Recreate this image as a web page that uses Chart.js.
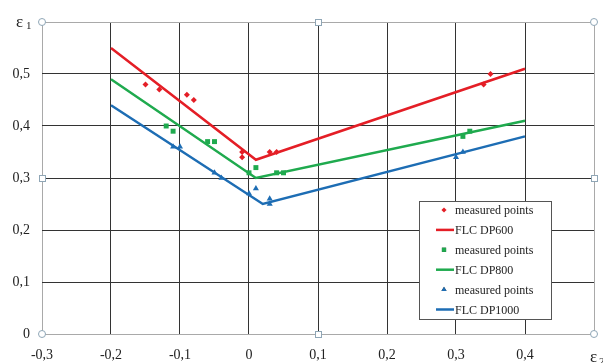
<!DOCTYPE html>
<html>
<head>
<meta charset="utf-8">
<script src="https://cdn.jsdelivr.net/npm/chart.js@4"></script>
<style>
  html, body { margin: 0; padding: 0; background: #fff; }
  #wrap { width: 603px; height: 363px; }
</style>
</head>
<body>
<div id="wrap"><canvas id="flcChart" width="603" height="363"></canvas></div>
<script>
// measured points (eps2, eps1)
const dp600Points = [
    [-0.15, 0.48], [-0.13, 0.47], [-0.09, 0.46], [-0.08, 0.45],
    [-0.01, 0.35], [-0.01, 0.34], [0.03, 0.35], [0.04, 0.35],
    [0.34, 0.48], [0.35, 0.50]
];
const dp800Points = [
    [-0.12, 0.40], [-0.11, 0.39], [-0.06, 0.37], [-0.05, 0.37],
    [0.00, 0.31], [0.01, 0.32], [0.04, 0.31], [0.05, 0.31],
    [0.31, 0.38], [0.32, 0.39]
];
const dp1000Points = [
    [-0.11, 0.36], [-0.10, 0.36], [-0.05, 0.31], [-0.04, 0.30],
    [0.00, 0.27], [0.01, 0.28], [0.03, 0.26], [0.03, 0.25],
    [0.30, 0.34], [0.31, 0.35]
];

// forming limit curves
const flc600 = [[-0.2, 0.55], [0.01, 0.335], [0.4, 0.51]];
const flc800 = [[-0.2, 0.49], [0.01, 0.30], [0.4, 0.41]];
const flc1000 = [[-0.2, 0.44], [0.02, 0.25], [0.4, 0.38]];

const xTicks = [-0.3, -0.2, -0.1, 0, 0.1, 0.2, 0.3, 0.4, 0.5];
const yTicks = [0, 0.1, 0.2, 0.3, 0.4, 0.5, 0.6];

const legendLabels = ['measured points', 'FLC DP600', 'measured points', 'FLC DP800', 'measured points', 'FLC DP1000'];

const RED = '#e41e26';
const GREEN = '#1faa4e';
const BLUE = '#1d6db4';
const SERIF = '"Liberation Serif", "Times New Roman", serif';

const toXY = arr => arr.map(p => ({ x: p[0], y: p[1] }));
const fmt = v => String(Math.round(v * 10) / 10).replace('.', ',');

function pointSet(label, pts, color, style, radius) {
    return {
        label: label,
        data: toXY(pts),
        showLine: false,
        pointStyle: style,
        pointRadius: radius,
        backgroundColor: color,
        borderColor: color,
        borderWidth: 0
    };
}

function lineSet(label, pts, color) {
    return {
        label: label,
        data: toXY(pts),
        showLine: true,
        borderColor: color,
        backgroundColor: color,
        borderWidth: 2.5,
        pointRadius: 0,
        tension: 0
    };
}

const datasets = [
    pointSet(legendLabels[0], dp600Points, RED, 'rectRot', 3),
    lineSet(legendLabels[1], flc600, RED),
    pointSet(legendLabels[2], dp800Points, GREEN, 'rect', 3.5),
    lineSet(legendLabels[3], flc800, GREEN),
    pointSet(legendLabels[4], dp1000Points, BLUE, 'triangle', 3.5),
    lineSet(legendLabels[5], flc1000, BLUE)
];

// legend box, axis symbols and the selection handles
const extrasPlugin = {
    id: 'extras',
    afterDraw(chart) {
        const ctx = chart.ctx;
        const a = chart.chartArea;
        ctx.save();

        // axis symbols
        ctx.fillStyle = '#222';
        ctx.textBaseline = 'alphabetic';
        ctx.font = '17px ' + SERIF;
        ctx.fillText('ε', 16, 27);
        ctx.font = '11px ' + SERIF;
        ctx.fillText('1', 26, 29);
        ctx.font = '17px ' + SERIF;
        ctx.fillText('ε', 590, 362);
        ctx.font = '11px ' + SERIF;
        ctx.fillText('2', 599, 365);

        // legend
        const bx = 419, by = 201, bw = 132, bh = 118;
        ctx.fillStyle = '#fff';
        ctx.fillRect(bx, by, bw, bh);
        ctx.strokeStyle = '#555';
        ctx.lineWidth = 1;
        ctx.strokeRect(bx + 0.5, by + 0.5, bw, bh);
        ctx.font = '12px ' + SERIF;
        ctx.textBaseline = 'middle';
        chart.data.datasets.forEach((ds, i) => {
            const cy = 210 + i * 19.9;
            if (ds.showLine) {
                ctx.strokeStyle = ds.borderColor;
                ctx.lineWidth = 2.5;
                ctx.beginPath();
                ctx.moveTo(436, cy);
                ctx.lineTo(454, cy);
                ctx.stroke();
            } else {
                Chart.helpers.drawPoint(ctx, {
                    pointStyle: ds.pointStyle,
                    radius: ds.pointRadius * 0.85,
                    borderWidth: 0
                }, 444, cy);
                ctx.fillStyle = ds.backgroundColor;
                ctx.fill();
            }
            ctx.fillStyle = '#222';
            ctx.fillText(ds.label, 455, cy + 1);
        });

        // handles
        ctx.strokeStyle = '#8fa6b6';
        ctx.fillStyle = '#fff';
        ctx.lineWidth = 1;
        const mx = (a.left + a.right) / 2, my = (a.top + a.bottom) / 2;
        [[a.left, a.top], [a.right, a.top], [a.left, a.bottom], [a.right, a.bottom]].forEach(p => {
            ctx.beginPath();
            ctx.arc(p[0], p[1], 3.5, 0, Math.PI * 2);
            ctx.fill();
            ctx.stroke();
        });
        [[mx, a.top], [a.left, my], [a.right, my], [mx, a.bottom]].forEach(p => {
            ctx.fillRect(p[0] - 3, p[1] - 3, 6, 6);
            ctx.strokeRect(p[0] - 3 + 0.5, p[1] - 3 + 0.5, 6, 6);
        });
        ctx.restore();
    }
};

const edgeGrid = (ctx, edges) => edges.includes(Math.round(ctx.tick.value * 10) / 10) ? '#a9a9a9' : '#333';

new Chart(document.getElementById('flcChart'), {
    type: 'scatter',
    data: { datasets: datasets },
    options: {
        responsive: false,
        animation: false,
        events: [],
        layout: { padding: { top: 22, right: 9, left: 0, bottom: 0 } },
        scales: {
            x: {
                type: 'linear',
                min: -0.3,
                max: 0.5,
                afterBuildTicks: s => { s.ticks = xTicks.map(v => ({ value: v })); },
                afterFit: s => { s.height = 29; s.paddingLeft = 0; s.paddingRight = 0; },
                ticks: {
                    color: '#222',
                    font: { family: SERIF, size: 14 },
                    padding: 13,
                    maxRotation: 0,
                    callback: v => (Math.round(v * 10) / 10 === 0.5 ? '' : fmt(v))
                },
                grid: {
                    color: c => edgeGrid(c, [-0.3, 0.5]),
                    lineWidth: 1,
                    drawTicks: false
                },
                border: { display: false }
            },
            y: {
                type: 'linear',
                min: 0,
                max: 0.6,
                afterBuildTicks: s => { s.ticks = yTicks.map(v => ({ value: v })); },
                afterFit: s => { s.width = 42; s.paddingTop = 0; s.paddingBottom = 0; },
                ticks: {
                    color: '#222',
                    font: { family: SERIF, size: 14 },
                    padding: 12,
                    callback: v => (Math.round(v * 10) / 10 === 0.6 ? '' : fmt(v))
                },
                grid: {
                    color: c => edgeGrid(c, [0, 0.6]),
                    lineWidth: 1,
                    drawTicks: false
                },
                border: { display: false }
            }
        },
        plugins: {
            legend: { display: false },
            tooltip: { enabled: false }
        }
    },
    plugins: [extrasPlugin]
});
</script>
</body>
</html>
